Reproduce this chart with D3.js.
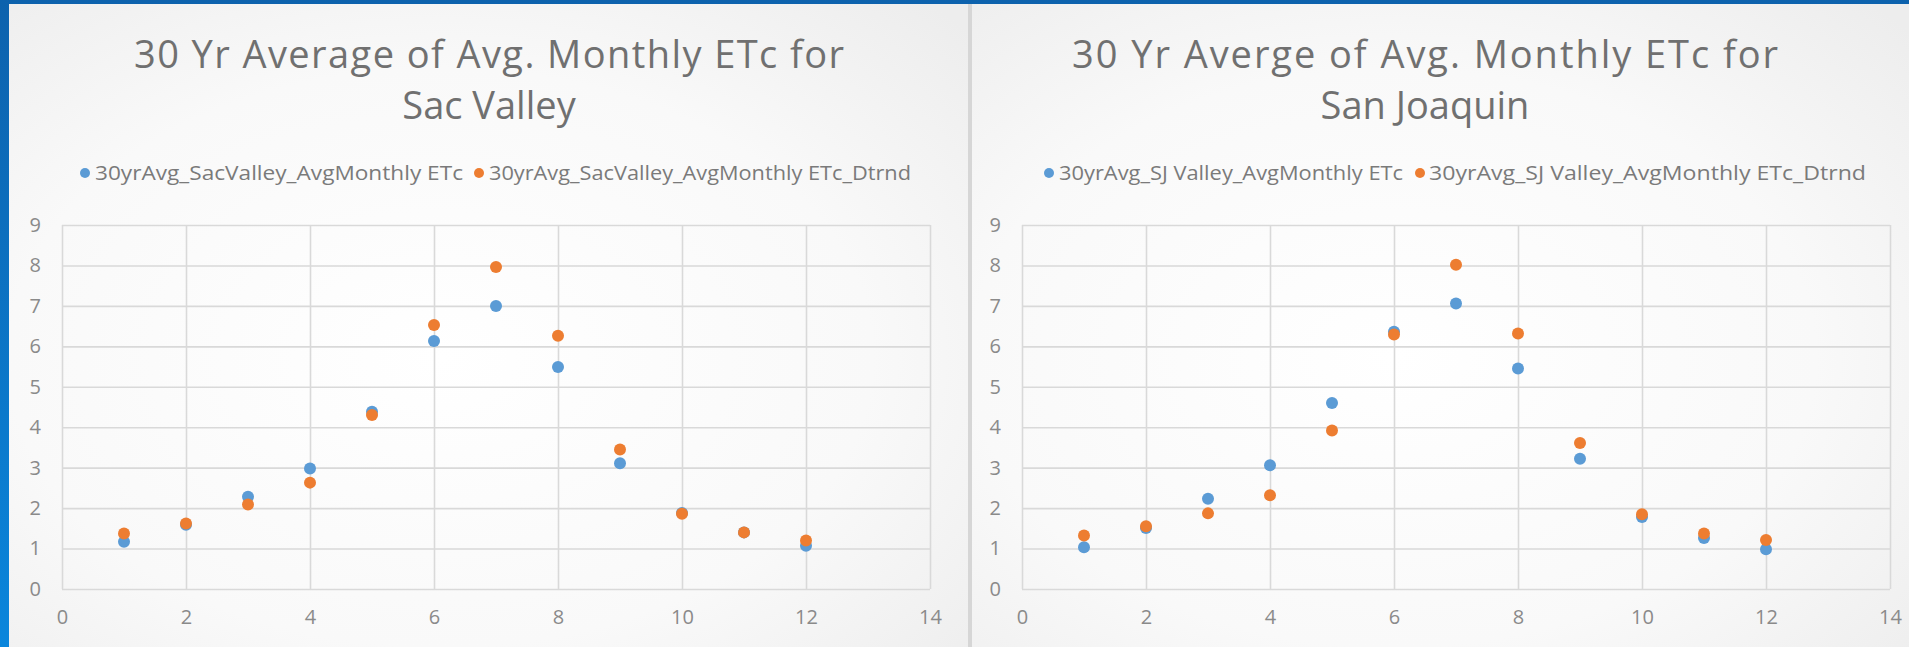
<!DOCTYPE html>
<html>
<head>
<meta charset="utf-8">
<script src="https://cdn.jsdelivr.net/npm/d3@7"></script>
<style>
  html, body { margin: 0; padding: 0; background: #ffffff; }
  svg { display: block; }
</style>
</head>
<body>
<svg id="chart" width="1909" height="647"></svg>
<script>
// Months 1..12 and 30-year averages of average monthly crop ET (ETc)
const months = [1, 2, 3, 4, 5, 6, 7, 8, 9, 10, 11, 12];

const sacValleyEtc    = [1.17, 1.59, 2.28, 2.98, 4.38, 6.13, 7.00, 5.49, 3.11, 1.88, 1.40, 1.07];
const sacValleyDtrnd  = [1.37, 1.62, 2.09, 2.63, 4.30, 6.53, 7.96, 6.26, 3.45, 1.86, 1.40, 1.20];

const sjValleyEtc     = [1.03, 1.51, 2.23, 3.06, 4.60, 6.36, 7.06, 5.45, 3.22, 1.78, 1.26, 0.98];
const sjValleyDtrnd   = [1.32, 1.55, 1.87, 2.32, 3.92, 6.29, 8.02, 6.32, 3.61, 1.85, 1.37, 1.21];

const xTicks = [0, 2, 4, 6, 8, 10, 12, 14];
const yTicks = [0, 1, 2, 3, 4, 5, 6, 7, 8, 9];

const leftTitle  = ["30 Yr Average of Avg. Monthly ETc for", "Sac Valley"];
const rightTitle = ["30 Yr Averge of Avg. Monthly ETc for", "San Joaquin"];

const leftLegend  = ["30yrAvg_SacValley_AvgMonthly ETc", "30yrAvg_SacValley_AvgMonthly ETc_Dtrnd"];
const rightLegend = ["30yrAvg_SJ Valley_AvgMonthly ETc", "30yrAvg_SJ Valley_AvgMonthly ETc_Dtrnd"];

const BLUE = "#5b9bd5", ORANGE = "#ed7d31";

const svg = d3.select("#chart");
const defs = svg.append("defs");

// frame gradient
const fg = defs.append("linearGradient").attr("id", "frameGrad")
  .attr("x1", 0).attr("y1", 0).attr("x2", 0).attr("y2", 1);
fg.append("stop").attr("offset", "0%").attr("stop-color", "#0d62ad");
fg.append("stop").attr("offset", "100%").attr("stop-color", "#0a86dc");

// soft panel shading
const pg = defs.append("radialGradient").attr("id", "panelGrad")
  .attr("cx", "45%").attr("cy", "55%").attr("r", "75%");
pg.append("stop").attr("offset", "0%").attr("stop-color", "#ffffff");
pg.append("stop").attr("offset", "60%").attr("stop-color", "#f9f9f9");
pg.append("stop").attr("offset", "100%").attr("stop-color", "#ededed");

svg.append("rect").attr("x", 0).attr("y", 0).attr("width", 1909).attr("height", 647)
  .attr("fill", "url(#frameGrad)");

const panels = [
  {
    x0: 9, x1: 968, plotX: [62, 930], titleCx: 489,
    title: leftTitle, titleWidth: 710, legend: leftLegend,
    legendItems: [{dot: 85, tx: 95, tw: 368}, {dot: 479, tx: 489, tw: 422}],
    series: [sacValleyEtc, sacValleyDtrnd]
  },
  {
    x0: 972, x1: 1909, plotX: [1022, 1890], titleCx: 1425,
    title: rightTitle, titleWidth: 706, legend: rightLegend,
    legendItems: [{dot: 1049, tx: 1059, tw: 344}, {dot: 1420, tx: 1429, tw: 437}],
    series: [sjValleyEtc, sjValleyDtrnd]
  }
];

const plotY = [589, 225];
const colors = [BLUE, ORANGE];

panels.forEach((p) => {
  const g = svg.append("g");

  g.append("rect")
    .attr("x", p.x0).attr("y", 4)
    .attr("width", p.x1 - p.x0).attr("height", 647 - 4)
    .attr("fill", "url(#panelGrad)");

  // title (two lines)
  p.title.forEach((line, i) => {
    const t = g.append("text")
      .attr("x", p.titleCx).attr("y", 68 + i * 51)
      .attr("text-anchor", "middle")
      .attr("font-family", "'Open Sans', 'Noto Sans', sans-serif")
      .attr("font-size", 38)
      .attr("fill", "#707070")
      .text(line);
    if (i === 0) t.attr("textLength", p.titleWidth).attr("lengthAdjust", "spacing");
  });

  // legend
  p.legendItems.forEach((it, i) => {
    g.append("circle")
      .attr("cx", it.dot).attr("cy", 173).attr("r", 5)
      .attr("fill", colors[i]);
    g.append("text")
      .attr("x", it.tx).attr("y", 180)
      .attr("font-family", "'Open Sans', 'Noto Sans', sans-serif")
      .attr("font-size", 20)
      .attr("fill", "#7a7a7a")
      .attr("textLength", it.tw)
      .attr("lengthAdjust", "spacingAndGlyphs")
      .text(p.legend[i]);
  });

  const x = d3.scaleLinear().domain([0, 14]).range(p.plotX);
  const y = d3.scaleLinear().domain([0, 9]).range(plotY);

  // horizontal gridlines + y labels
  const yAxis = d3.axisLeft(y).tickValues(yTicks)
    .tickSize(-(p.plotX[1] - p.plotX[0])).tickPadding(14).tickFormat(d3.format("d"));
  const ya = g.append("g").attr("transform", `translate(${p.plotX[0]},0)`).call(yAxis);
  ya.select(".domain").remove();
  ya.selectAll(".tick line").attr("stroke", "#d9d9d9").attr("stroke-width", 1.6);
  ya.selectAll(".tick text")
    .attr("font-family", "'Open Sans', 'Noto Sans', sans-serif")
    .attr("font-size", 20).attr("fill", "#8a8a8a").attr("x", -21);

  // vertical gridlines + x labels
  const xAxis = d3.axisBottom(x).tickValues(xTicks)
    .tickSize(-(plotY[0] - plotY[1])).tickPadding(16).tickFormat(d3.format("d"));
  const xa = g.append("g").attr("transform", `translate(0,${plotY[0]})`).call(xAxis);
  xa.select(".domain").remove();
  xa.selectAll(".tick line").attr("stroke", "#d9d9d9").attr("stroke-width", 1.6);
  xa.selectAll(".tick text")
    .attr("font-family", "'Open Sans', 'Noto Sans', sans-serif")
    .attr("font-size", 20).attr("fill", "#8a8a8a").attr("dy", "0.71em").attr("y", 21);

  // markers: first series beneath, detrended series on top
  p.series.forEach((vals, si) => {
    g.append("g").selectAll("circle")
      .data(months.map((m, i) => ({m, v: vals[i]})))
      .join("circle")
      .attr("cx", d => x(d.m))
      .attr("cy", d => y(d.v))
      .attr("r", 6)
      .attr("fill", colors[si]);
  });
});

// divider between the two chart panels
svg.append("rect").attr("x", 968).attr("y", 4).attr("width", 4).attr("height", 643)
  .attr("fill", "#d6d6d6");
</script>
</body>
</html>
